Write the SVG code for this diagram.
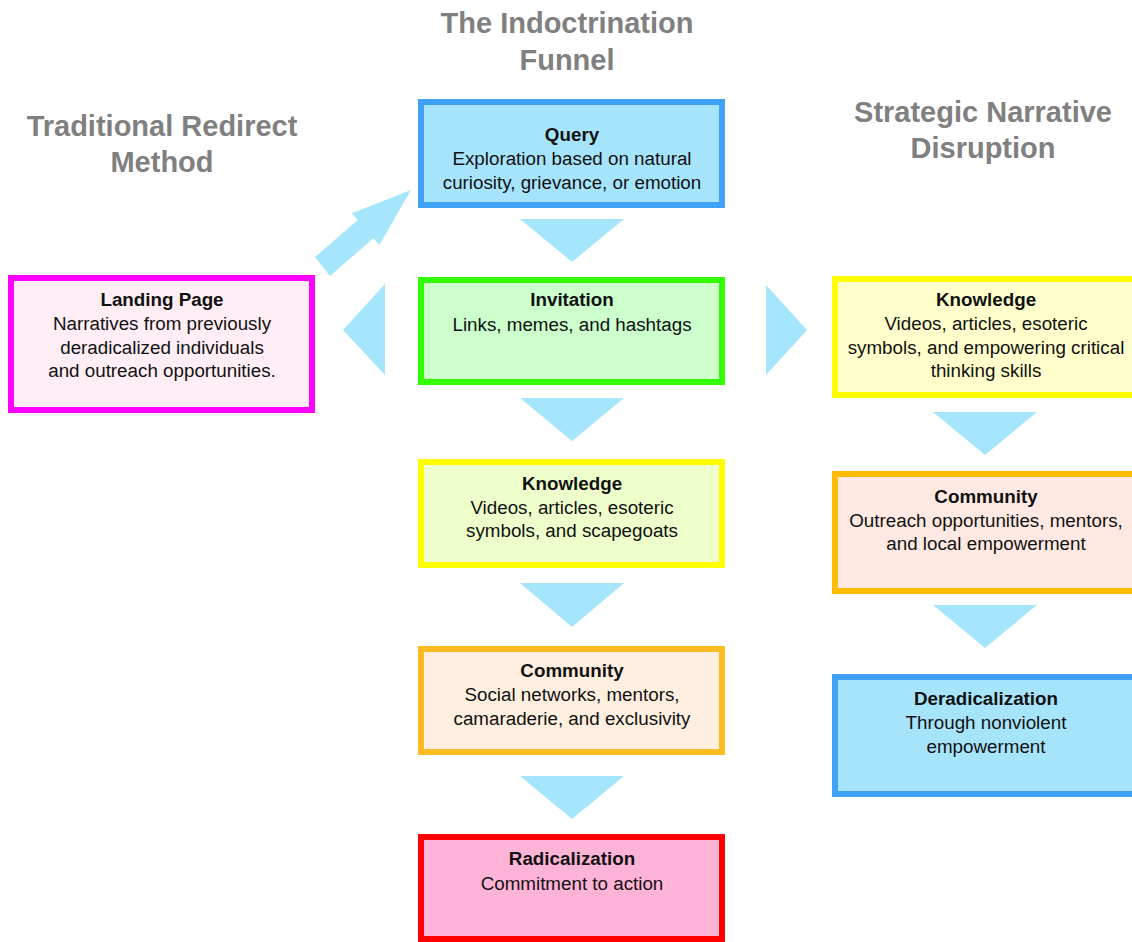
<svg xmlns="http://www.w3.org/2000/svg" width="1132" height="942" viewBox="0 0 1132 942">
<style>
.hd{font-family:"Liberation Sans",Arial,sans-serif;font-weight:bold;font-size:29px;fill:#808080;text-anchor:middle}
.t{font-family:"Liberation Sans",Arial,sans-serif;font-size:18.8px;fill:#111;text-anchor:middle}
.b{font-weight:bold}
.arr{fill:#A6E6FC;stroke:none}
rect{stroke-width:6}
</style>
<rect width="1132" height="942" fill="#ffffff"/>
<g id="titles">
<text class="hd" x="567" y="33">The Indoctrination</text>
<text class="hd" x="567" y="70">Funnel</text>
<text class="hd" x="162" y="136">Traditional Redirect</text>
<text class="hd" x="162" y="172">Method</text>
<text class="hd" x="983" y="122">Strategic Narrative</text>
<text class="hd" x="983" y="158">Disruption</text>
</g>
<g id="connectors">
<polygon class="arr" points="520,219 624,219 572,262"/>
<polygon class="arr" points="520,398 624,398 572,441"/>
<polygon class="arr" points="520,583 624,583 572,627"/>
<polygon class="arr" points="520,776 624,776 572,819"/>
<polygon class="arr" points="933,412 1037,412 985,455"/>
<polygon class="arr" points="933,605 1037,605 985,648"/>
<polygon class="arr" points="385,284 385,375 343,330"/>
<polygon class="arr" points="766,285 766,375 807,330"/>
<polygon class="arr" points="315,257 357.8,220.1 351.9,213.3 411,190 379.3,245.1 373.4,238.3 330,276"/>
</g>
<g id="query">
<rect x="421" y="102" width="301" height="103" fill="#A6E4FC" stroke="#3FA2F8"/>
<text class="t b" x="572" y="141">Query</text>
<text class="t" x="572" y="165">Exploration based on natural</text>
<text class="t" x="572" y="189">curiosity, grievance, or emotion</text>
</g>
<g id="invitation">
<rect x="421" y="280" width="301" height="102" fill="#CCFFCC" stroke="#33FF00"/>
<text class="t b" x="572" y="306">Invitation</text>
<text class="t" x="572" y="331">Links, memes, and hashtags</text>
</g>
<g id="knowledge-funnel">
<rect x="421" y="462" width="301" height="103" fill="#EEFFCC" stroke="#FFFF00"/>
<text class="t b" x="572" y="490">Knowledge</text>
<text class="t" x="572" y="514">Videos, articles, esoteric</text>
<text class="t" x="572" y="537">symbols, and scapegoats</text>
</g>
<g id="community-funnel">
<rect x="421" y="649" width="301" height="103" fill="#FFEFE0" stroke="#FFBB22"/>
<text class="t b" x="572" y="677">Community</text>
<text class="t" x="572" y="701">Social networks, mentors,</text>
<text class="t" x="572" y="725">camaraderie, and exclusivity</text>
</g>
<g id="radicalization">
<rect x="421" y="837" width="301" height="102" fill="#FFB3D6" stroke="#FF0000"/>
<text class="t b" x="572" y="865">Radicalization</text>
<text class="t" x="572" y="890">Commitment to action</text>
</g>
<g id="landing-page">
<rect x="11" y="278" width="301" height="132" fill="#FFEEF5" stroke="#FF00FF"/>
<text class="t b" x="162" y="306">Landing Page</text>
<text class="t" x="162" y="330">Narratives from previously</text>
<text class="t" x="162" y="354">deradicalized individuals</text>
<text class="t" x="162" y="377">and outreach opportunities.</text>
</g>
<g id="knowledge-disruption">
<rect x="835" y="279" width="301" height="116" fill="#FFFFCC" stroke="#FFFF00"/>
<text class="t b" x="986" y="306">Knowledge</text>
<text class="t" x="986" y="330">Videos, articles, esoteric</text>
<text class="t" x="986" y="354">symbols, and empowering critical</text>
<text class="t" x="986" y="377">thinking skills</text>
</g>
<g id="community-disruption">
<rect x="835" y="474" width="301" height="117" fill="#FFE9E2" stroke="#FFBB00"/>
<text class="t b" x="986" y="503">Community</text>
<text class="t" x="986" y="527">Outreach opportunities, mentors,</text>
<text class="t" x="986" y="550">and local empowerment</text>
</g>
<g id="deradicalization">
<rect x="835" y="677" width="301" height="117" fill="#A6E4FC" stroke="#3FA2F8"/>
<text class="t b" x="986" y="705">Deradicalization</text>
<text class="t" x="986" y="729">Through nonviolent</text>
<text class="t" x="986" y="753">empowerment</text>
</g>
</svg>
